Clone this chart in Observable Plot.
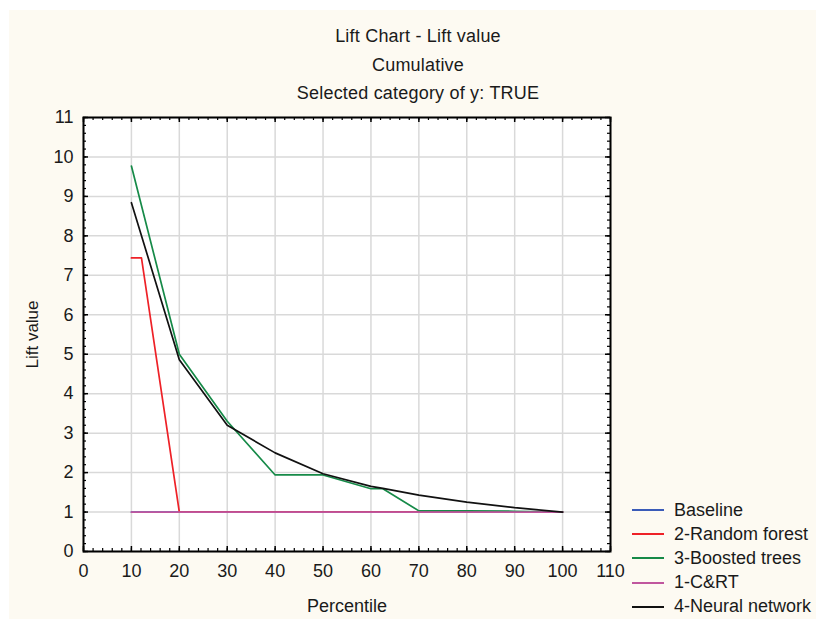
<!DOCTYPE html>
<html>
<head>
<meta charset="utf-8">
<script src="https://cdn.jsdelivr.net/npm/d3@7"></script>
<script src="https://cdn.jsdelivr.net/npm/@observablehq/plot@0.6"></script>
<style>
  html, body { margin: 0; padding: 0; background: #ffffff; }
  #wrap { position: relative; width: 816px; height: 619px; overflow: hidden; font-family: "Liberation Sans", Arial, sans-serif; color: #1a1a1a; }
  #panel { position: absolute; left: 9px; top: 10px; width: 807px; height: 609px; background: #fdfaf2; }
  .title { position: absolute; left: 418px; transform: translateX(-50%); white-space: nowrap; font-size: 18px; letter-spacing: 0.2px; }
  #chart { position: absolute; left: 0; top: 0; }
  #legend { position: absolute; left: 632px; top: 498px; font-size: 18px; }
  .item { display: flex; align-items: center; height: 24.2px; white-space: nowrap; }
  .swatch { width: 32px; height: 0; border-top: 2px solid; margin-right: 10px; }
</style>
</head>
<body>
<div id="wrap">
  <div id="panel"></div>
  <div class="title" style="top:26px">Lift Chart - Lift value</div>
  <div class="title" style="top:55px">Cumulative</div>
  <div class="title" style="top:83px">Selected category of y: TRUE</div>
  <div id="chart"></div>
  <div id="legend"></div>
</div>
<script>
// ---- data ----
const seriesNames = ["Baseline", "2-Random forest", "3-Boosted trees", "1-C&RT", "4-Neural network"];
const seriesColors = ["#3a5bb8", "#ee2127", "#168a48", "#c0569e", "#111111"];

const baselineX = [10, 20, 30, 40, 50, 60, 70, 80, 90, 100];
const baselineY = [1, 1, 1, 1, 1, 1, 1, 1, 1, 1];

const randomForestX = [10, 12.1, 20, 30, 40, 50, 60, 70, 80, 90, 100];
const randomForestY = [7.44, 7.44, 1, 1, 1, 1, 1, 1, 1, 1, 1];

const boostedX = [10, 20, 30, 40, 50, 60, 62.5, 70, 80, 90, 100];
const boostedY = [9.77, 5.0, 3.3, 1.94, 1.94, 1.59, 1.59, 1.03, 1.03, 1.02, 1.0];

const crtX = [10, 20, 30, 40, 50, 60, 70, 80, 90, 100];
const crtY = [1, 1, 1, 1, 1, 1, 1, 1, 1, 1];

const neuralX = [10, 20, 30, 40, 50, 60, 62.5, 70, 80, 90, 100];
const neuralY = [8.84, 4.86, 3.2, 2.5, 1.97, 1.65, 1.6, 1.43, 1.25, 1.11, 1.0];

const xTicks = [0, 10, 20, 30, 40, 50, 60, 70, 80, 90, 100, 110];
const yTicks = [0, 1, 2, 3, 4, 5, 6, 7, 8, 9, 10, 11];
const xMinorTicks = d3.range(0, 110.001, 2);
const yMinorTicks = d3.range(0, 11.001, 0.2);

// ---- build table ----
const seriesXY = [
  [baselineX, baselineY],
  [randomForestX, randomForestY],
  [boostedX, boostedY],
  [crtX, crtY],
  [neuralX, neuralY]
];
const rows = [];
seriesXY.forEach(([xs, ys], i) => {
  xs.forEach((x, j) => rows.push({series: seriesNames[i], x, y: ys[j]}));
});

const W = 816, H = 619, mL = 83, mR = 206, mT = 117, mB = 68;
const innerW = W - mL - mR, innerH = H - mT - mB;

const chart = Plot.plot({
  width: W, height: H,
  marginLeft: mL, marginRight: mR, marginTop: mT, marginBottom: mB,
  style: {background: "transparent", fontFamily: "'Liberation Sans', Arial, sans-serif", fontSize: "18px", color: "#1a1a1a"},
  x: {domain: [0, 110], axis: null},
  y: {domain: [0, 11], axis: null},
  color: {domain: seriesNames, range: seriesColors},
  marks: [
    Plot.frame({fill: "white", stroke: "none"}),
    Plot.gridX(xTicks, {stroke: "#d9d9d9", strokeOpacity: 1, strokeWidth: 1.5}),
    Plot.gridY(yTicks, {stroke: "#d9d9d9", strokeOpacity: 1, strokeWidth: 1.5}),
    Plot.line(rows, {x: "x", y: "y", z: "series", stroke: "series", strokeWidth: 1.7}),
    // inward major ticks
    Plot.tickX(xTicks, {x: d => d, insetTop: innerH - 5, stroke: "black", strokeWidth: 1.5}),
    Plot.tickX(xTicks, {x: d => d, insetBottom: innerH - 5, stroke: "black", strokeWidth: 1.5}),
    Plot.tickY(yTicks, {y: d => d, insetRight: innerW - 5, stroke: "black", strokeWidth: 1.5}),
    Plot.tickY(yTicks, {y: d => d, insetLeft: innerW - 5, stroke: "black", strokeWidth: 1.5}),
    // inward minor ticks
    Plot.tickX(xMinorTicks, {x: d => d, insetTop: innerH - 3, stroke: "black", strokeWidth: 1.2}),
    Plot.tickX(xMinorTicks, {x: d => d, insetBottom: innerH - 3, stroke: "black", strokeWidth: 1.2}),
    Plot.tickY(yMinorTicks, {y: d => d, insetRight: innerW - 3, stroke: "black", strokeWidth: 1.2}),
    Plot.tickY(yMinorTicks, {y: d => d, insetLeft: innerW - 3, stroke: "black", strokeWidth: 1.2}),
    Plot.frame({stroke: "black", strokeWidth: 2}),
    Plot.axisX(xTicks, {anchor: "bottom", tickSize: 0, tickPadding: 13, label: null, fontSize: 18}),
    Plot.axisY(yTicks, {anchor: "left", tickSize: 0, tickPadding: 10, label: null, fontSize: 18}),
    Plot.axisX({anchor: "bottom", ticks: [], tickSize: 0, label: "Percentile", labelAnchor: "center", labelArrow: "none", labelOffset: 60, fontSize: 18}),
    Plot.axisY({anchor: "left", ticks: [], tickSize: 0, label: "Lift value", labelAnchor: "center", labelArrow: "none", labelOffset: 58, fontSize: 17})
  ]
});
document.getElementById("chart").appendChild(chart);

// ---- legend ----
const legend = document.getElementById("legend");
seriesNames.forEach((name, i) => {
  const item = document.createElement("div");
  item.className = "item";
  const sw = document.createElement("span");
  sw.className = "swatch";
  sw.style.borderColor = seriesColors[i];
  const label = document.createElement("span");
  label.textContent = name;
  item.appendChild(sw);
  item.appendChild(label);
  legend.appendChild(item);
});
</script>
</body>
</html>
